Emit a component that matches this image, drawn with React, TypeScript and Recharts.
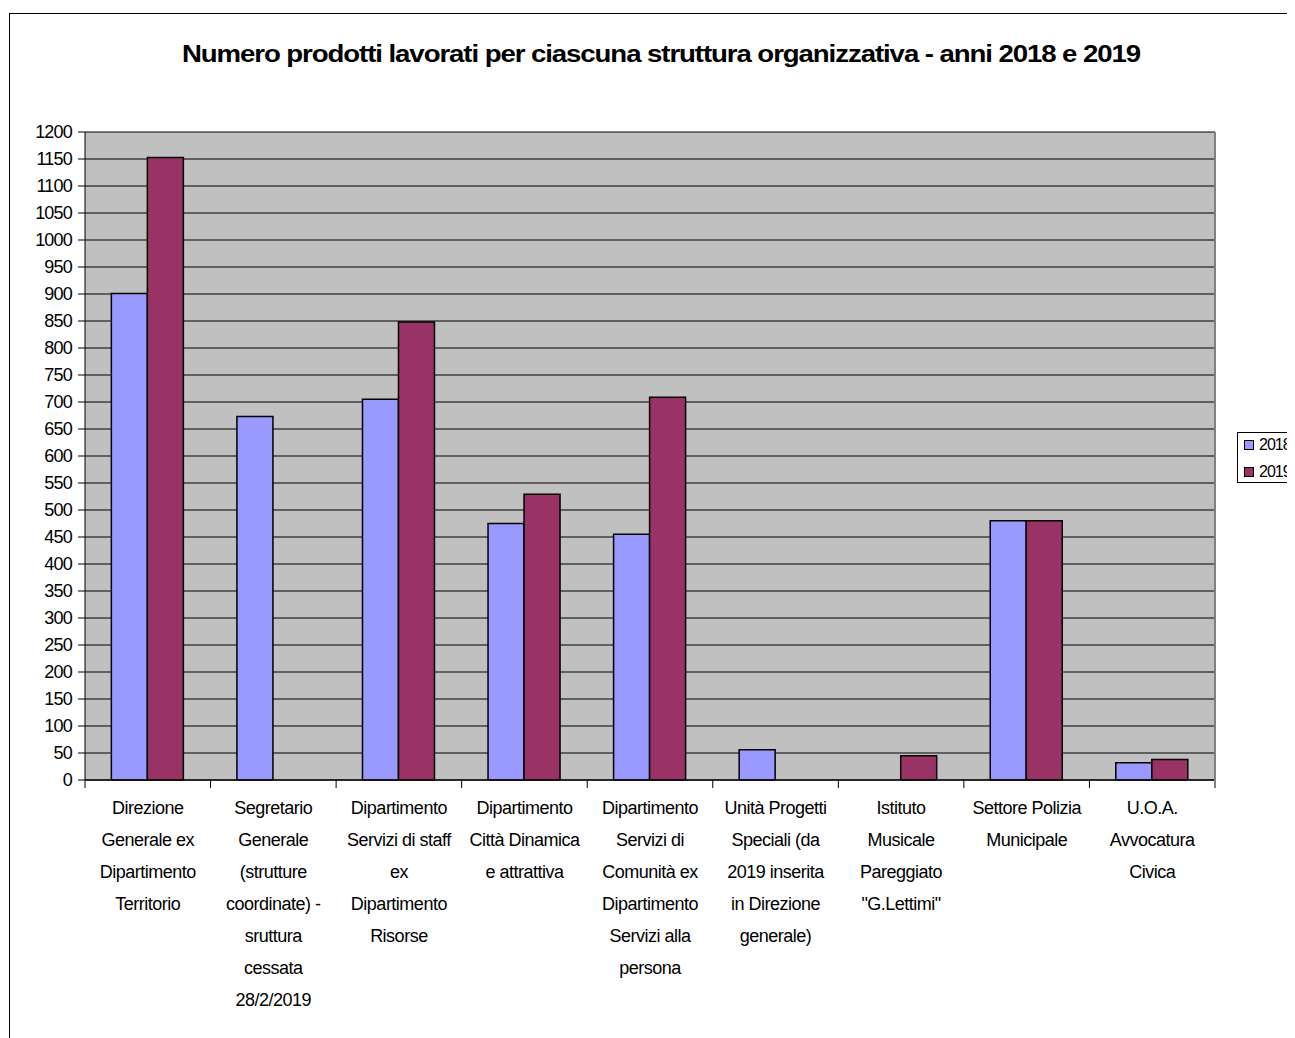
import React from 'react';
import { BarChart, Bar, XAxis, YAxis, CartesianGrid, Legend } from 'recharts';

const categories = [
  'Direzione\nGenerale ex\nDipartimento\nTerritorio',
  'Segretario\nGenerale\n(strutture\ncoordinate) -\nsruttura\ncessata\n28/2/2019',
  'Dipartimento\nServizi di staff\nex\nDipartimento\nRisorse',
  'Dipartimento\nCittà Dinamica\ne attrattiva',
  'Dipartimento\nServizi di\nComunità ex\nDipartimento\nServizi alla\npersona',
  'Unità Progetti\nSpeciali (da\n2019 inserita\nin Direzione\ngenerale)',
  'Istituto\nMusicale\nPareggiato\n"G.Lettimi"',
  'Settore Polizia\nMunicipale',
  'U.O.A.\nAvvocatura\nCivica',
];
const values2018: (number | null)[] = [901, 673, 705, 475, 455, 56, null, 480, 32];
const values2019: (number | null)[] = [1153, null, 848, 529, 709, null, 45, 480, 38];
const yTicks = [0, 50, 100, 150, 200, 250, 300, 350, 400, 450, 500, 550, 600, 650, 700, 750, 800, 850, 900, 950, 1000, 1050, 1100, 1150, 1200];
const title = 'Numero prodotti lavorati per ciascuna struttura organizzativa - anni 2018 e 2019';

const data = categories.map((c, i) => ({ name: c, y2018: values2018[i], y2019: values2019[i] }));

const FONT = '"Liberation Sans", Arial, sans-serif';
const W = 1287;
const H = 1030;
const PLOT_LEFT = 77;
const PLOT_RIGHT = 1207;
const BW = (PLOT_RIGHT - PLOT_LEFT) / categories.length;

const XTick = (props: any) => {
  const { x, y, payload, index } = props;
  const axisY = y - 8;
  const lines = String(payload.value).split('\n');
  return (
    <g>
      <line x1={x - BW / 2} x2={x - BW / 2} y1={axisY} y2={axisY + 8} stroke="#000" strokeWidth={1} />
      {index === categories.length - 1 && (
        <line x1={x + BW / 2} x2={x + BW / 2} y1={axisY} y2={axisY + 8} stroke="#808080" strokeWidth={2} />
      )}
      <text x={x} y={axisY + 34} textAnchor="middle" fontFamily={FONT} fontSize={18} letterSpacing={-0.5} fill="#000">
        {lines.map((l, i) => (
          <tspan key={i} x={x} dy={i === 0 ? 0 : 32}>{l}</tspan>
        ))}
      </text>
    </g>
  );
};

const LegendContent = (props: any) => {
  const { payload } = props;
  return (
    <div style={{ border: '1px solid #000', background: '#fff', width: 80, height: 51, boxSizing: 'border-box', paddingTop: 0 }}>
      {(payload || []).map((p: any, i: number) => (
        <div key={i} style={{ display: 'flex', alignItems: 'center', height: 24, paddingLeft: 6, marginTop: i === 0 ? 0 : 3 }}>
          <div style={{ width: 8, height: 8, background: p.color, border: '1px solid #000', marginRight: 5 }} />
          <span style={{ fontFamily: FONT, fontSize: 16, letterSpacing: -1, color: '#000' }}>{p.value}</span>
        </div>
      ))}
    </div>
  );
};

export default function App() {
  return (
    <div style={{ position: 'relative', width: W, height: H, overflow: 'hidden', background: '#fff' }}>
      <div style={{ position: 'absolute', left: 1, top: 5, width: 1400, height: 1100, border: '1px solid #000' }} />
      <div
        style={{
          position: 'absolute', left: 0, top: 33, width: 1306, textAlign: 'center',
          fontFamily: FONT, fontWeight: 'bold', fontSize: 23, letterSpacing: -0.9, color: '#000',
          transform: 'scaleX(1.2)', transformOrigin: '653px 0',
        }}
      >
        {title}
      </div>
      <div style={{ position: 'absolute', left: 0, top: 0 }}>
        <BarChart
          width={W}
          height={H}
          data={data}
          margin={{ top: 124, right: 79, left: 17, bottom: 8 }}
          barCategoryGap="21%"
          barGap={0}
        >
          <CartesianGrid yAxisId="l" vertical={false} fill="#C0C0C0" stroke="#000" strokeWidth={1} />
          <XAxis
            dataKey="name"
            height={250}
            interval={0}
            tick={<XTick />}
            tickLine={false}
            tickSize={8}
            tickMargin={0}
            axisLine={{ stroke: '#111', strokeWidth: 1.5 }}
          />
          <YAxis
            yAxisId="l"
            width={60}
            domain={[0, 1200]}
            ticks={yTicks}
            interval={0}
            tickSize={7}
            tickMargin={6}
            tickLine={{ stroke: '#000' }}
            axisLine={{ stroke: '#000' }}
            tick={{ fontFamily: FONT, fontSize: 18, fill: '#000', letterSpacing: -0.8 }}
          />
          <YAxis
            yAxisId="r"
            orientation="right"
            width={1}
            domain={[0, 1200]}
            ticks={[0, 1200]}
            tick={false}
            tickSize={0}
            tickLine={false}
            axisLine={{ stroke: '#808080', strokeWidth: 2 }}
          />
          <Legend
            verticalAlign="middle"
            align="center"
            layout="vertical"
            content={<LegendContent />}
            wrapperStyle={{ position: 'absolute', left: 1229, top: 424, width: 80 }}
          />
          <Bar yAxisId="l" dataKey="y2018" name="2018" fill="#9999FF" stroke="#000" strokeWidth={1.5} isAnimationActive={false} />
          <Bar yAxisId="l" dataKey="y2019" name="2019" fill="#993366" stroke="#000" strokeWidth={1.5} isAnimationActive={false} />
        </BarChart>
      </div>
    </div>
  );
}
